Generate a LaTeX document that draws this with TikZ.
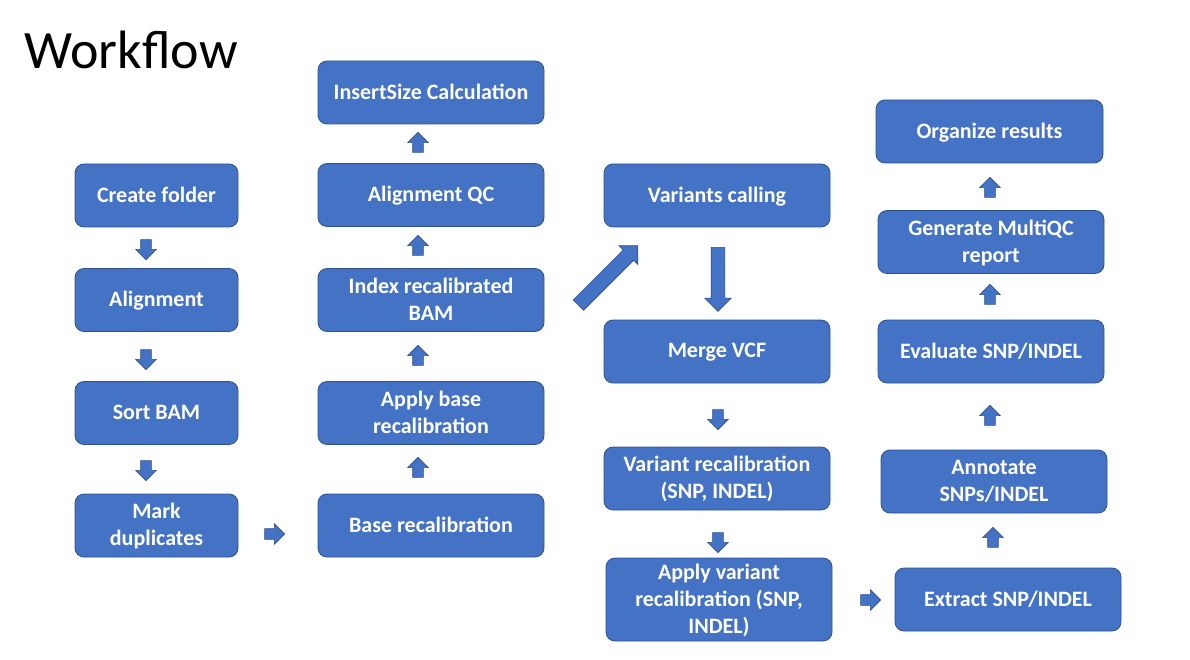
\documentclass[tikz,border=0pt]{standalone}
\usepackage{fontspec}
\setmainfont{Carlito}
\usetikzlibrary{shapes.arrows}
\definecolor{boxc}{HTML}{4472C4}
\definecolor{bordc}{HTML}{2F528F}
\tikzset{
  box/.style={draw=bordc, fill=boxc, rounded corners=9pt, line width=0.8pt, text=white,
    font=\fontsize{22}{27}\selectfont\bfseries, align=center, inner sep=0pt, minimum height=63pt,
    text depth=1.5pt},
  barrow/.style={shape=single arrow, draw=bordc, fill=boxc, line width=0.6pt, inner sep=5pt,
    minimum width=20pt, single arrow head extend=5pt, minimum height=20pt},
  dnarrow/.style={barrow, shape border rotate=270},
  uparrow/.style={barrow, shape border rotate=90},
  rtarrow/.style={barrow, shape border rotate=0},
}
\begin{document}
\begin{tikzpicture}[x=1pt,y=-1pt]
\useasboundingbox (0,0) rectangle (1190,660);
\node[anchor=west, font=\fontsize{54}{60}\selectfont] (title) at (21,50) {Workflow};
% column 1
\node[box, minimum width=163pt] (cf) at (156.5,195.5) {Create folder};
\node[box, minimum width=163pt] (al) at (156.5,300) {Alignment};
\node[box, minimum width=163pt] (sb) at (156.5,413) {Sort BAM};
\node[box, minimum width=163pt] (md) at (156.5,525.5) {Mark\\duplicates};
% column 2
\node[box, minimum width=226pt] (is) at (431,92.5) {InsertSize Calculation};
\node[box, minimum width=226pt] (aq) at (431,195) {Alignment QC};
\node[box, minimum width=226pt] (ib) at (431,300) {Index recalibrated\\BAM};
\node[box, minimum width=226pt] (ab) at (431,413) {Apply base\\recalibration};
\node[box, minimum width=226pt] (br) at (431,525.5) {Base recalibration};
% column 3
\node[box, minimum width=226pt] (vc) at (717,195.5) {Variants calling};
\node[box, minimum width=226pt] (mv) at (717,351.5) {Merge VCF};
\node[box, minimum width=226pt] (vr) at (717,478.5) {Variant recalibration\\(SNP, INDEL)};
\node[box, minimum width=226pt, minimum height=83pt] (av) at (719,599.5) {Apply variant\\recalibration (SNP,\\INDEL)};
% column 4
\node[box, minimum width=227pt] (or) at (989.5,131.5) {Organize results};
\node[box, minimum width=226pt] (gm) at (991,242) {Generate MultiQC\\report};
\node[box, minimum width=226pt] (ev) at (991,351.5) {Evaluate SNP/INDEL};
\node[box, minimum width=226pt] (an) at (994,481.5) {Annotate\\SNPs/INDEL};
\node[box, minimum width=226pt] (ex) at (1008,599.5) {Extract SNP/INDEL};
% arrows column 1
\node[dnarrow] (a1) at (146,247) {};
\node[dnarrow] (a2) at (146,357) {};
\node[dnarrow] (a3) at (146,468) {};
\node[rtarrow] (a4) at (272,534) {};
% arrows column 2
\node[uparrow] (a5) at (418,470) {};
\node[uparrow] (a6) at (418,358) {};
\node[uparrow] (a7) at (418,248) {};
\node[uparrow] (a8) at (418,145) {};
% diagonal and big down
\node[barrow, inner sep=7pt, minimum width=26pt, single arrow head extend=6pt, minimum height=84pt, rotate=45] (a9) at (605.5,278) {};
\node[dnarrow, inner sep=6.5pt, minimum width=26pt, single arrow head extend=6.5pt, minimum height=64pt] (a10) at (718,276) {};
\node[dnarrow] (a11) at (718,417) {};
\node[dnarrow] (a12) at (718,540) {};
\node[rtarrow] (a13) at (868,600) {};
% column 4 arrows
\node[uparrow] (a14) at (993,540) {};
\node[uparrow] (a15) at (990,418) {};
\node[uparrow] (a16) at (990,297) {};
\node[uparrow] (a17) at (990,190) {};
\end{tikzpicture}
\end{document}
